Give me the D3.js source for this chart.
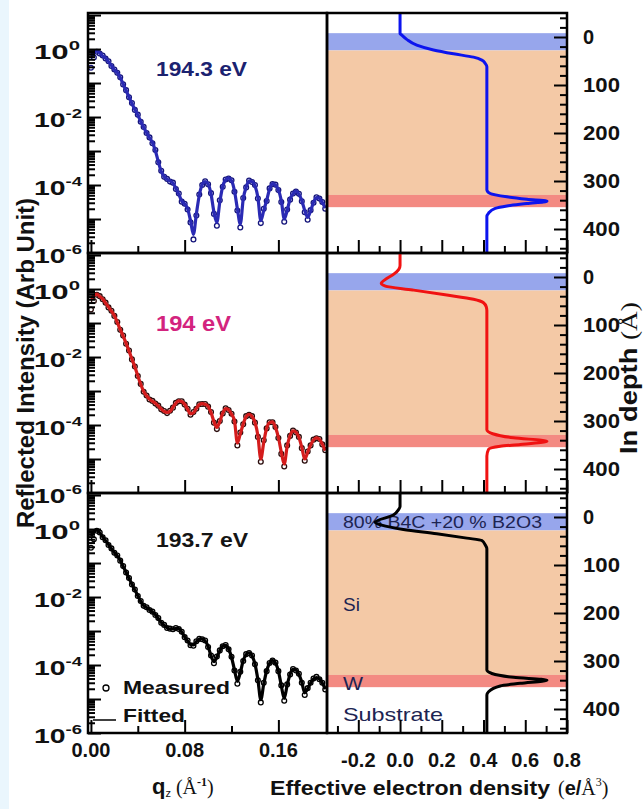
<!DOCTYPE html>
<html>
<head>
<meta charset="utf-8">
<script src="https://cdn.jsdelivr.net/npm/d3@7"></script>
<style>
  html, body { margin: 0; padding: 0; background: #ffffff; }
  svg { display: block; }
  text { font-family: "Liberation Sans", Arial, sans-serif; }
</style>
</head>
<body>
<svg id="chart" width="644" height="809"></svg>
<script>
// ---------------- data ----------------
// momentum transfer grid qz (1/Å) shared by all three scans
const qz = [
  0.0000,0.0025,0.0050,0.0075,0.0100,0.0125,0.0150,0.0175,0.0200,0.0225,
  0.0250,0.0275,0.0300,0.0325,0.0350,0.0375,0.0400,0.0425,0.0450,0.0475,
  0.0500,0.0525,0.0550,0.0575,0.0600,0.0625,0.0650,0.0675,0.0700,0.0725,
  0.0750,0.0775,0.0800,0.0825,0.0850,0.0875,0.0900,0.0925,0.0950,0.0975,
  0.1000,0.1025,0.1050,0.1075,0.1100,0.1125,0.1150,0.1175,0.1200,0.1225,
  0.1250,0.1275,0.1300,0.1325,0.1350,0.1375,0.1400,0.1425,0.1450,0.1475,
  0.1500,0.1525,0.1550,0.1575,0.1600,0.1625,0.1650,0.1675,0.1700,0.1725,
  0.1750,0.1775,0.1800,0.1825,0.1850,0.1875,0.1900,0.1925,0.1950,0.1975,
  0.2000
];

// log10 of reflected intensity, 194.3 eV
const measured1943 = [-0.55,-0.25,-0.08,-0.13,-0.19,-0.28,-0.36,-0.5,-0.6,-0.7,-0.83,-1.04,-1.21,-1.42,-1.59,-1.79,-1.93,-2.14,-2.29,-2.47,-2.6,-2.77,-2.97,-3.33,-3.58,-3.76,-3.82,-3.9,-3.93,-4.12,-4.25,-4.49,-4.55,-4.72,-5.1,-5.6,-4.9,-4.28,-4.0,-3.89,-3.98,-4.24,-4.85,-5.2,-4.45,-4.05,-3.84,-3.81,-3.86,-4.2,-4.75,-5.25,-4.38,-4.07,-3.87,-3.91,-4.0,-4.4,-5.12,-4.7,-4.47,-4.1,-3.97,-3.99,-4.15,-4.5,-5.08,-4.72,-4.43,-4.25,-4.19,-4.26,-4.48,-4.8,-5.02,-4.74,-4.52,-4.36,-4.4,-4.5,-4.7];
const fitted1943 = [-0.2,-0.1,-0.06,-0.12,-0.2,-0.27,-0.37,-0.49,-0.61,-0.69,-0.84,-1.03,-1.22,-1.41,-1.6,-1.78,-1.94,-2.13,-2.3,-2.46,-2.61,-2.75,-2.99,-3.31,-3.6,-3.75,-3.83,-3.88,-3.94,-4.1,-4.27,-4.47,-4.56,-4.69,-5.05,-5.45,-4.85,-4.3,-3.99,-3.9,-3.97,-4.26,-4.8,-5.1,-4.5,-4.04,-3.85,-3.8,-3.87,-4.17,-4.7,-5.15,-4.41,-4.06,-3.88,-3.9,-4.02,-4.36,-5.05,-4.75,-4.45,-4.12,-3.96,-4.0,-4.14,-4.46,-5.0,-4.75,-4.41,-4.26,-4.18,-4.27,-4.46,-4.75,-4.95,-4.76,-4.51,-4.37,-4.39,-4.51,-4.68];

// log10 of reflected intensity, 194 eV
const measured194 = [-0.6,-0.35,-0.17,-0.21,-0.3,-0.4,-0.54,-0.64,-0.79,-0.97,-1.2,-1.37,-1.61,-1.81,-2.07,-2.28,-2.56,-2.79,-3.02,-3.13,-3.25,-3.29,-3.37,-3.43,-3.54,-3.59,-3.65,-3.58,-3.49,-3.35,-3.3,-3.3,-3.4,-3.52,-3.7,-3.62,-3.52,-3.39,-3.38,-3.38,-3.46,-3.62,-3.93,-4.12,-3.88,-3.66,-3.51,-3.56,-3.67,-3.9,-4.6,-4.22,-3.98,-3.74,-3.7,-3.74,-3.93,-4.35,-5.08,-4.45,-4.1,-3.92,-3.92,-4.06,-4.38,-4.85,-5.22,-4.6,-4.32,-4.16,-4.22,-4.35,-4.68,-5.05,-4.78,-4.6,-4.43,-4.39,-4.41,-4.57,-4.74];
const fitted194 = [-0.29,-0.2,-0.15,-0.22,-0.29,-0.41,-0.53,-0.65,-0.78,-0.98,-1.19,-1.38,-1.6,-1.82,-2.06,-2.29,-2.55,-2.8,-3.01,-3.14,-3.24,-3.3,-3.36,-3.44,-3.53,-3.6,-3.63,-3.6,-3.48,-3.36,-3.29,-3.31,-3.39,-3.53,-3.67,-3.64,-3.51,-3.4,-3.37,-3.39,-3.45,-3.63,-3.9,-4.07,-3.9,-3.65,-3.52,-3.55,-3.68,-3.87,-4.53,-4.26,-3.97,-3.75,-3.69,-3.75,-3.92,-4.31,-5.0,-4.51,-4.09,-3.93,-3.91,-4.07,-4.36,-4.8,-5.15,-4.63,-4.31,-4.17,-4.21,-4.36,-4.66,-5.0,-4.8,-4.59,-4.44,-4.38,-4.42,-4.56,-4.75];

// log10 of reflected intensity, 193.7 eV
const measured1937 = [-0.55,-0.3,-0.05,-0.1,-0.24,-0.33,-0.47,-0.57,-0.7,-0.78,-0.93,-1.09,-1.28,-1.44,-1.63,-1.78,-1.97,-2.12,-2.26,-2.3,-2.38,-2.43,-2.53,-2.62,-2.76,-2.82,-2.91,-2.93,-2.95,-2.91,-2.94,-3.02,-3.18,-3.28,-3.42,-3.43,-3.3,-3.23,-3.24,-3.28,-3.47,-3.72,-3.95,-3.75,-3.57,-3.45,-3.41,-3.54,-3.76,-4.16,-4.55,-4.2,-3.88,-3.68,-3.65,-3.72,-3.98,-4.45,-5.1,-4.52,-4.18,-3.94,-3.87,-3.93,-4.18,-4.6,-5.05,-4.57,-4.28,-4.12,-4.16,-4.26,-4.52,-4.88,-4.68,-4.52,-4.4,-4.35,-4.42,-4.52,-4.72];
const fitted1937 = [-0.2,-0.08,-0.03,-0.11,-0.23,-0.34,-0.46,-0.58,-0.69,-0.79,-0.92,-1.1,-1.27,-1.45,-1.62,-1.79,-1.96,-2.13,-2.25,-2.31,-2.37,-2.44,-2.52,-2.63,-2.75,-2.83,-2.9,-2.94,-2.94,-2.92,-2.93,-3.03,-3.17,-3.29,-3.4,-3.41,-3.31,-3.24,-3.23,-3.29,-3.45,-3.73,-3.9,-3.77,-3.58,-3.44,-3.42,-3.53,-3.77,-4.14,-4.48,-4.22,-3.87,-3.69,-3.64,-3.73,-3.97,-4.43,-5.02,-4.56,-4.17,-3.95,-3.86,-3.94,-4.17,-4.61,-4.98,-4.59,-4.27,-4.13,-4.15,-4.27,-4.51,-4.82,-4.7,-4.53,-4.41,-4.37,-4.41,-4.53,-4.71];

// effective electron density profiles: [density (e/Å^3), depth (Å)]
const profile1943 = [[0,-50],[0,-7.5],[0.008,-4],[0.032,5],[0.08,17],[0.16,27],[0.256,35],[0.352,42],[0.392,48],[0.408,55],[0.416,62],[0.416,318],[0.432,326],[0.512,333],[0.608,338],[0.704,342],[0.608,347],[0.512,352],[0.456,357],[0.424,367],[0.416,374],[0.416,450]];
const profile194 = [[0,-50],[0,-24],[-0.006,-16],[-0.03,-6],[-0.07,5],[-0.09,13],[-0.07,19],[0.06,27],[0.224,37.5],[0.352,46.5],[0.4,53.5],[0.413,62],[0.416,70],[0.416,318],[0.448,327],[0.544,335],[0.704,342],[0.576,349],[0.48,352.5],[0.424,359],[0.416,373],[0.416,450]];
const profile1937 = [[0,-50],[0,-22],[-0.008,-15],[-0.032,-4],[-0.12,11],[-0.088,17],[0.016,26],[0.176,35],[0.32,44],[0.392,49],[0.408,58],[0.416,66],[0.416,319],[0.44,326],[0.544,334],[0.704,340],[0.576,346.5],[0.48,352],[0.424,364],[0.416,371],[0.416,450]];

// layer stack (depth ranges in Å)
const layerNames = ["80% B4C +20 % B2O3", "Si", "W", "Substrate"];
const layerTop = [-8, 28, 329, 355];
const layerBottom = [28, 329, 355, 450];

// photon energies
const energies = ["194.3 eV", "194 eV", "193.7 eV"];

// tick labels
const yTickExps = [0, -2, -4, -6];
const qTickValues = [0, 0.08, 0.16];
const qTickLabels = ["0.00", "0.08", "0.16"];
const densityTickValues = [-0.2, 0, 0.2, 0.4, 0.6, 0.8];
const densityTickLabels = ["-0.2", "0.0", "0.2", "0.4", "0.6", "0.8"];
const depthTickValues = [0, 100, 200, 300, 400];
const depthTickLabels = ["0", "100", "200", "300", "400"];

[measured1943, fitted1943, measured194, fitted194, measured1937, fitted1937].forEach(a => {
  if (a.length !== qz.length) throw new Error("series length mismatch: " + a.length);
});

// ---------------- layout ----------------
const svg = d3.select("#chart");
const L0 = 88, L1 = 327, R1 = 567, PH = 240;
const tops = [13, 253, 493];

const panels = [
  { energy: energies[0], energyColor: "#1b2270", meas: measured1943, fit: fitted1943,
    lineColor: "#2a2ab4", dotColor: "#14147a", profile: profile1943, profColor: "#0c14ee" },
  { energy: energies[1], energyColor: "#d3247e", meas: measured194, fit: fitted194,
    lineColor: "#d41c1c", dotColor: "#2a0c0c", profile: profile194, profColor: "#f01212" },
  { energy: energies[2], energyColor: "#151515", meas: measured1937, fit: fitted1937,
    lineColor: "#000000", dotColor: "#000000", profile: profile1937, profColor: "#000000" }
];
const layerColors = ["#97a6ec", "#f4c9a6", "#f38a82", "#ffffff"];

// light side strip
svg.append("rect").attr("x", 0).attr("y", 0).attr("width", 9).attr("height", 809).attr("fill", "#eaf6fd");

const x = d3.scaleLinear().domain([-0.0025, 0.2015]).range([L0, L1]);
const xd = d3.scaleLinear().domain([-0.35, 0.8]).range([L1, R1]);

function stretch(sel, w) {
  return sel.attr("textLength", w).attr("lengthAdjust", "spacingAndGlyphs");
}
function styleAxis(g) {
  g.select(".domain").remove();
  g.selectAll(".tick line").attr("stroke", "#000").attr("stroke-width", 2);
  g.selectAll(".tick text").remove();
}

const defs = svg.append("defs");

panels.forEach((p, i) => {
  const top = tops[i], bot = top + PH;
  const y = d3.scaleLog().domain([1e-6, Math.pow(10, 1.06)]).range([bot, top]);
  const yd = d3.scaleLinear().domain([-50, 450]).range([top, bot]);

  defs.append("clipPath").attr("id", "clipL" + i)
    .append("rect").attr("x", L0).attr("y", top).attr("width", L1 - L0).attr("height", PH);
  defs.append("clipPath").attr("id", "clipR" + i)
    .append("rect").attr("x", L1).attr("y", top).attr("width", R1 - L1).attr("height", PH);

  // ----- layer bands in the density panel -----
  const bands = svg.append("g").attr("clip-path", "url(#clipR" + i + ")");
  layerNames.forEach((n, j) => {
    bands.append("rect")
      .attr("x", L1).attr("width", R1 - L1)
      .attr("y", yd(layerTop[j])).attr("height", yd(layerBottom[j]) - yd(layerTop[j]))
      .attr("fill", layerColors[j]);
  });

  if (i === 2) {
    const lc = "#1d2452";
    stretch(svg.append("text").attr("x", 343).attr("y", yd(10) + 6).attr("font-size", 17)
      .attr("fill", lc).text(layerNames[0]), 199);
    svg.append("text").attr("x", 343).attr("y", yd(181) + 7).attr("font-size", 19)
      .attr("fill", lc).text(layerNames[1]);
    stretch(svg.append("text").attr("x", 343).attr("y", yd(346) + 7).attr("font-size", 19)
      .attr("fill", lc).text(layerNames[2]), 20);
    stretch(svg.append("text").attr("x", 343).attr("y", yd(410) + 7).attr("font-size", 19)
      .attr("fill", lc).text(layerNames[3]), 100);
  }

  // ----- density profile -----
  svg.append("path").datum(p.profile)
    .attr("clip-path", "url(#clipR" + i + ")")
    .attr("fill", "none").attr("stroke", p.profColor).attr("stroke-width", 3)
    .attr("stroke-linejoin", "round")
    .attr("d", d3.line().x(d => xd(d[0])).y(d => yd(d[1])).curve(d3.curveMonotoneY));

  // ----- reflectivity: measured circles under the fitted curve -----
  const gl = svg.append("g").attr("clip-path", "url(#clipL" + i + ")");
  gl.selectAll("circle").data(p.meas).join("circle")
    .attr("cx", (d, k) => x(qz[k])).attr("cy", d => y(Math.pow(10, d)))
    .attr("r", 2.4).attr("fill", "#ffffff").attr("stroke", p.dotColor).attr("stroke-width", 1.3);
  gl.append("path").datum(p.fit)
    .attr("fill", "none").attr("stroke", p.lineColor).attr("stroke-width", 3.2)
    .attr("stroke-linejoin", "round")
    .attr("d", d3.line().x((d, k) => x(qz[k])).y(d => y(Math.pow(10, d))).curve(d3.curveMonotoneX));

  stretch(svg.append("text").attr("x", 156).attr("y", [76, 331, 547][i])
    .attr("font-size", [20, 22, 20][i]).attr("font-weight", "bold")
    .attr("fill", p.energyColor).text(p.energy), [91, 75, 92][i]);

  // ----- axes: left log axis, ticks inside -----
  const all = y.ticks();
  const majors = all.filter(v => Math.abs(Math.log10(v) - Math.round(Math.log10(v))) < 1e-9);
  const minors = all.filter(v => !majors.includes(v));
  svg.append("g").attr("transform", `translate(${L0},0)`)
    .call(d3.axisRight(y).tickValues(majors).tickSize(13).tickFormat(""))
    .call(styleAxis);
  svg.append("g").attr("transform", `translate(${L0},0)`)
    .call(d3.axisRight(y).tickValues(minors).tickSize(7).tickFormat(""))
    .call(styleAxis);

  yTickExps.forEach(e => {
    const t = svg.append("text").attr("x", 34).attr("y", y(Math.pow(10, e)) + 10)
      .attr("font-weight", "bold").attr("font-size", 20).attr("fill", "#111");
    t.append("tspan").text("10");
    t.append("tspan").attr("dy", -9).attr("font-size", 13).text(String(e));
    stretch(t, e === 0 ? 46 : 48);
  });

  // bottom q ticks, pointing up
  svg.append("g").attr("transform", `translate(0,${bot})`)
    .call(d3.axisTop(x).tickValues([0, 0.08, 0.16]).tickSize(13).tickFormat(""))
    .call(styleAxis);
  svg.append("g").attr("transform", `translate(0,${bot})`)
    .call(d3.axisTop(x).tickValues([0.04, 0.12]).tickSize(7).tickFormat(""))
    .call(styleAxis);

  // density panel ticks
  svg.append("g").attr("transform", `translate(0,${bot})`)
    .call(d3.axisTop(xd).tickValues(densityTickValues).tickSize(13).tickFormat(""))
    .call(styleAxis);
  svg.append("g").attr("transform", `translate(0,${bot})`)
    .call(d3.axisTop(xd).tickValues([-0.3, -0.1, 0.1, 0.3, 0.5, 0.7]).tickSize(7).tickFormat(""))
    .call(styleAxis);
  svg.append("g").attr("transform", `translate(${R1},0)`)
    .call(d3.axisLeft(yd).tickValues(depthTickValues).tickSize(13).tickFormat(""))
    .call(styleAxis);
  svg.append("g").attr("transform", `translate(${R1},0)`)
    .call(d3.axisLeft(yd).tickValues(d3.range(-40, 450, 20).filter(v => v % 100 !== 0)).tickSize(7).tickFormat(""))
    .call(styleAxis);

  depthTickValues.forEach((v, j) => {
    const t = svg.append("text").attr("x", 583).attr("y", yd(v) + 7)
      .attr("font-weight", "bold").attr("font-size", 20).attr("fill", "#111").text(depthTickLabels[j]);
    if (j > 0) stretch(t, 37);
  });

  // frames
  svg.append("rect").attr("x", L0).attr("y", top).attr("width", L1 - L0).attr("height", PH)
    .attr("fill", "none").attr("stroke", "#000").attr("stroke-width", 2.5);
  svg.append("rect").attr("x", L1).attr("y", top).attr("width", R1 - L1).attr("height", PH)
    .attr("fill", "none").attr("stroke", "#000").attr("stroke-width", 2.5);

  // legend in the lowest scan
  if (i === 2) {
    svg.append("circle").attr("cx", 106).attr("cy", 688).attr("r", 3)
      .attr("fill", "#fff").attr("stroke", "#000").attr("stroke-width", 1.3);
    stretch(svg.append("text").attr("x", 123).attr("y", 694).attr("font-size", 19)
      .attr("font-weight", "bold").attr("fill", "#111").text("Measured"), 107);
    svg.append("line").attr("x1", 93).attr("x2", 116).attr("y1", 720).attr("y2", 720)
      .attr("stroke", "#000").attr("stroke-width", 1.5);
    stretch(svg.append("text").attr("x", 123).attr("y", 722).attr("font-size", 19)
      .attr("font-weight", "bold").attr("fill", "#111").text("Fitted"), 62);
  }
});

// bottom tick labels
qTickValues.forEach((v, j) => {
  svg.append("text").attr("x", x(v)).attr("y", 757).attr("text-anchor", "middle")
    .attr("font-weight", "bold").attr("font-size", 20).attr("fill", "#111").text(qTickLabels[j]);
});
densityTickValues.forEach((v, j) => {
  svg.append("text").attr("x", xd(v)).attr("y", 767).attr("text-anchor", "middle")
    .attr("font-weight", "bold").attr("font-size", 20).attr("fill", "#111").text(densityTickLabels[j]);
});

// axis titles
const serif = "'Liberation Serif', 'Times New Roman', serif";
stretch(svg.append("text").attr("transform", "translate(34,363) rotate(-90)")
  .attr("text-anchor", "middle").attr("font-weight", "bold").attr("font-size", 24)
  .attr("fill", "#111").text("Reflected Intensity (Arb Unit)"), 330);

const dt = svg.append("text").attr("transform", "translate(637,378) rotate(-90)")
  .attr("text-anchor", "middle").attr("font-size", 23).attr("fill", "#111");
dt.append("tspan").attr("font-weight", "bold").text("In depth ");
dt.append("tspan").attr("font-family", serif).text("(Å)");
stretch(dt, 152);

const qt = svg.append("text").attr("x", 152).attr("y", 794).attr("fill", "#111");
qt.append("tspan").attr("font-weight", "bold").attr("font-size", 22).text("q");
qt.append("tspan").attr("font-size", 11).attr("dy", 3).text("z");
qt.append("tspan").attr("font-family", serif).attr("font-size", 20).attr("dy", -3).text(" (Å");
qt.append("tspan").attr("font-family", serif).attr("font-size", 12).attr("font-weight", "bold").attr("dy", -8).text("-1");
qt.append("tspan").attr("font-family", serif).attr("font-size", 20).attr("dy", 8).text(")");

stretch(svg.append("text").attr("x", 270).attr("y", 795).attr("font-weight", "bold")
  .attr("font-size", 20).attr("fill", "#111").text("Effective electron density"), 280);
const et = svg.append("text").attr("x", 558).attr("y", 795).attr("font-size", 20).attr("fill", "#111");
et.append("tspan").attr("font-family", serif).text("(");
et.append("tspan").attr("font-weight", "bold").text("e/");
et.append("tspan").attr("font-family", serif).text("Å");
et.append("tspan").attr("font-family", serif).attr("font-size", 12).attr("dy", -9).text("3");
et.append("tspan").attr("font-family", serif).attr("dy", 9).text(")");
</script>
</body>
</html>
